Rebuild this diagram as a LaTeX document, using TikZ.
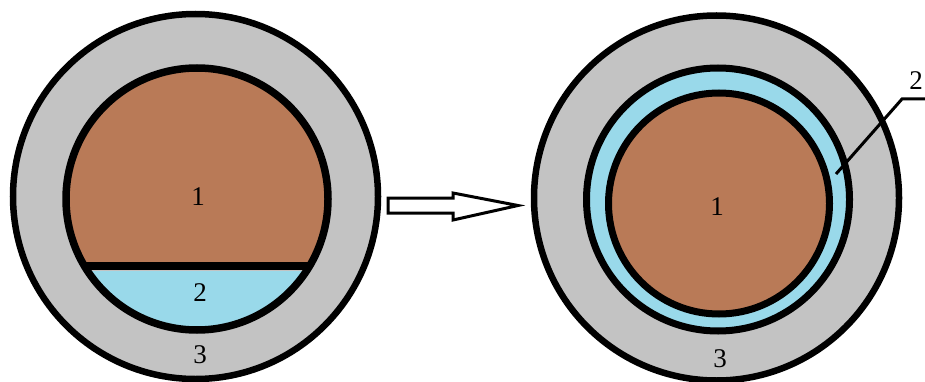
\documentclass[tikz,border=0pt]{standalone}
\usepackage{fontspec}
\setmainfont{Liberation Serif}
\definecolor{brownc}{HTML}{B97A57}
\definecolor{bluec}{HTML}{99D9EA}
\definecolor{grayc}{HTML}{C3C3C3}
\begin{document}
\begin{tikzpicture}[x=1pt,y=-1pt,
  ring/.style={draw=black,line width=6.5pt},
  lbl/.style={font=\fontsize{27}{30}\selectfont,inner sep=0pt}]
\useasboundingbox (0,0) rectangle (925,382);
% ---------- left ----------
\fill[grayc] (195.5,196.5) circle (182.5);
\begin{scope}
  \clip (197,199) circle (131);
  \fill[brownc] (40,60) rectangle (360,261.5);
  \fill[bluec] (40,270.5) rectangle (360,340);
  \draw[line width=8pt] (40,266) -- (360,266);
\end{scope}
\draw[ring] (195.5,196.5) circle (182.5);
\draw[ring,line width=7.5pt] (197,199) circle (131);
\node[lbl] (l1) at (198,197) {1};
\node[lbl] (l2) at (200,293) {2};
\node[lbl] (l3) at (200,355) {3};
% ---------- arrow ----------
\draw[line width=3pt,line join=miter,fill=white] (388,198) -- (453,198) -- (453,193) -- (518,205.5) -- (453,220) -- (453,213) -- (388,213) -- cycle;
% ---------- right ----------
\fill[grayc] (716.5,198) circle (182.5);
\fill[bluec] (718,199.5) circle (131.5);
\fill[brownc] (719,203.5) circle (110.5);
\draw[ring] (716.5,198) circle (182.5);
\draw[ring,line width=7pt] (718,199.5) circle (131.5);
\draw[ring,line width=7pt] (719,203.5) circle (110.5);
\node[lbl] (r1) at (717,207) {1};
\node[lbl] (r3) at (720,359) {3};
\node[lbl] (r2) at (916,81) {2};
\coordinate (lead) at (836,174);
\coordinate (bend) at (902,99);
\coordinate (lend) at (925,99);
\draw[line width=3pt] (lead) -- (bend) -- (lend);
\end{tikzpicture}
\end{document}
